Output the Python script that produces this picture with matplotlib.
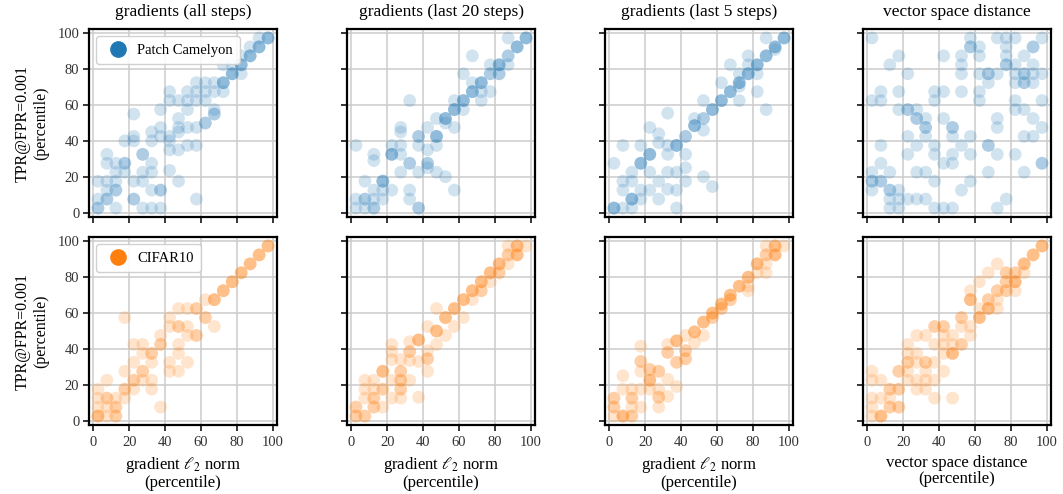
import numpy as np
import matplotlib
matplotlib.use('Agg')
import matplotlib.pyplot as plt
from matplotlib.lines import Line2D

plt.rcParams['font.family'] = ['Liberation Serif', 'DejaVu Serif']
plt.rcParams['mathtext.fontset'] = 'stix'

col_titles = ['gradients (all steps)', 'gradients (last 20 steps)',
              'gradients (last 5 steps)', 'vector space distance']
x_labels = ['gradient $\\ell_2$ norm\n(percentile)', 'gradient $\\ell_2$ norm\n(percentile)',
            'gradient $\\ell_2$ norm\n(percentile)', 'vector space distance\n(percentile)']
y_label = 'TPR@FPR=0.001\n(percentile)'
dataset_names = ['Patch Camelyon', 'CIFAR10']
dataset_colors = ['#1f77b4', '#ff7f0e']
ticks = [0, 20, 40, 60, 80, 100]

# (x, y) percentile pairs, repeated entries are overlapping runs
pcam_all = [(97.5, 97.5)] * 3 + [(92.5, 97.5)] + [(92.5, 92.5)] * 3 + [(87.5, 92.5)] + [(87.5, 87.5)] * 3 + \
    [(82.5, 87.5)] + [(82.5, 82.5)] * 3 + [(72.5, 82.5), (77.5, 82.5)] + [(77.5, 77.5)] * 3 + [(82.5, 77.5)] + \
    [(72.5, 72.5)] * 3 + [(57.5, 72.5), (62.5, 72.5), (67.5, 72.5), (42.5, 67.5), (52.5, 67.5), (57.5, 67.5),
                          (62.5, 67.5), (67.5, 67.5), (72.5, 67.5), (42.5, 62.5), (47.5, 62.5), (52.5, 62.5),
                          (57.5, 62.5), (62.5, 62.5), (37.5, 57.5), (52.5, 57.5), (67.5, 57.5), (22.5, 55)] + \
    [(67.5, 55)] * 2 + [(47.5, 52.5)] + [(62.5, 50)] * 2 + \
    [(37.5, 47.5), (47.5, 47.5), (52.5, 47.5), (57.5, 47.5), (32.5, 45), (47.5, 45), (22.5, 42.5), (37.5, 42.5),
     (42.5, 42.5), (17.5, 40), (22.5, 40), (32.5, 40), (42.5, 40), (52.5, 37.5), (57.5, 37.5), (42.5, 35),
     (47.5, 35), (7.5, 32.5)] + [(27.5, 32.5)] * 2 + [(7.5, 27.5), (12.5, 27.5)] + [(17.5, 27.5)] * 2 + \
    [(32.5, 27.5), (12.5, 22.5), (17.5, 22.5), (27.5, 22.5), (32.5, 22.5), (42.5, 23.5), (2.5, 17.5),
     (7.5, 17.5), (12.5, 17.5), (22.5, 17.5), (27.5, 17.5), (47.5, 17.5), (7.5, 12.5)] + \
    [(12.5, 12.5)] * 2 + [(32.5, 12.5)] + [(37.5, 12.5)] * 2 + [(2.5, 7.5)] + [(7.5, 7.5)] * 2 + \
    [(22.5, 7.5)] * 2 + [(57.5, 7.5)] + [(2.5, 2.5)] * 2 + [(12.5, 2.5), (27.5, 2.5), (32.5, 2.5), (37.5, 2.5)]

pcam_last20 = [(97.5, 97.5)] * 3 + [(92.5, 92.5)] * 3 + [(87.5, 97.5)] + [(87.5, 87.5)] * 2 + [(87.5, 82.5)] + \
    [(82.5, 82.5)] * 3 + [(82.5, 77.5)] * 2 + [(77.5, 82.5)] + [(77.5, 77.5)] * 2 + [(67.5, 87.5), (62.5, 77.5)] + \
    [(72.5, 72.5)] * 3 + [(67.5, 72.5)] + [(67.5, 67.5)] * 3 + [(72.5, 67.5), (77.5, 67.5)] + \
    [(62.5, 62.5)] * 3 + [(62.5, 57.5), (57.5, 62.5), (72.5, 62.5)] + [(57.5, 57.5)] * 3 + [(32.5, 62.5)] + \
    [(52.5, 52.5)] * 3 + [(52.5, 50), (47.5, 52.5), (57.5, 47.5), (27.5, 47.5), (27.5, 45)] + \
    [(37.5, 42.5)] * 2 + [(42.5, 47.5)] + [(47.5, 42.5)] * 3 + [(47.5, 37.5), (22.5, 37.5)] + \
    [(22.5, 32.5)] * 3 + [(27.5, 37.5), (27.5, 32.5), (2.5, 37.5), (12.5, 32.5), (12.5, 29), (37.5, 37.5),
                          (42.5, 35)] + [(32.5, 27.5)] * 2 + [(42.5, 27.5)] * 2 + \
    [(42.5, 25), (27.5, 22.5), (37.5, 22.5), (47.5, 22.5), (52.5, 20)] + [(17.5, 17.5)] * 3 + \
    [(7.5, 17.5), (22.5, 12.5), (32.5, 12.5), (32.5, 7.5), (57.5, 12.5), (2.5, 7.5)] + [(7.5, 7.5)] * 2 + \
    [(12.5, 12.5), (12.5, 7.5), (17.5, 12.5), (17.5, 7.5), (2.5, 2.5), (7.5, 2.5)] + [(12.5, 2.5)] * 2 + \
    [(37.5, 2.5)] * 2

pcam_last5 = [(97.5, 97.5)] * 3 + [(92.5, 92.5)] * 3 + [(92.5, 91), (87.5, 97.5)] + [(87.5, 87.5)] * 3 + \
    [(77.5, 87.5)] + [(82.5, 82.5)] * 3 + [(77.5, 82.5), (67.5, 82.5)] + [(77.5, 77.5)] * 3 + \
    [(72.5, 77.5), (82.5, 77.5)] + [(72.5, 72.5)] * 3 + [(72.5, 70.5)] + [(67.5, 67.5)] * 3 + \
    [(62.5, 72.5), (82.5, 67.5)] + [(62.5, 62.5)] * 3 + [(72.5, 62.5), (52.5, 62.5)] + [(57.5, 57.5)] * 3 + \
    [(87.5, 57.5)] + [(52.5, 52.5)] * 2 + [(47.5, 52.5)] + [(47.5, 48.5)] * 3 + [(52.5, 46)] + \
    [(42.5, 42.5)] * 2 + [(32.5, 55.5), (22.5, 47.5), (27.5, 44)] + [(37.5, 37.5)] * 3 + \
    [(32.5, 37.5), (27.5, 39), (42.5, 32.5), (7.5, 37.5), (17.5, 37.5)] + [(22.5, 32.5)] * 3 + [(32.5, 32.5)] + \
    [(17.5, 27.5)] * 3 + [(2.5, 27.5), (12.5, 22.5), (22.5, 22.5), (32.5, 22.5), (37.5, 22.5), (42.5, 25),
                          (7.5, 17.5), (12.5, 17.5), (27.5, 17.5), (42.5, 17.5), (52.5, 20), (57.5, 14.5),
                          (7.5, 12.5), (17.5, 12.5), (22.5, 12.5), (32.5, 13), (37.5, 12.5)] + \
    [(12.5, 7.5)] * 3 + [(17.5, 7.5), (27.5, 7.5)] + [(2.5, 2.5)] * 3 + [(7.5, 2.5), (12.5, 2.5), (37.5, 2.5)]

pcam_vsd = [(2.5, 97.5), (57.5, 97.5), (72.5, 97.5), (77.5, 97.5), (82.5, 97.5), (97.5, 97.5),
            (57.5, 92.5), (57.5, 92.5), (62.5, 92.5), (77.5, 92.5), (92.5, 92.5), (92.5, 92.5),
            (17.5, 87.5), (42.5, 87.5), (52.5, 87.5), (62.5, 87.5), (77.5, 87.5), (87.5, 87.5),
            (12.5, 82.5), (52.5, 82.5), (77.5, 82.5), (77.5, 82.5), (82.5, 82.5), (92.5, 82.5),
            (22.5, 77.5), (52.5, 77.5), (62.5, 77.5), (67.5, 77.5), (67.5, 77.5), (72.5, 77.5), (82.5, 77.5),
            (87.5, 77.5), (87.5, 77.5), (92.5, 77.5), (97.5, 77.5),
            (67.5, 72.5), (82.5, 72.5), (87.5, 72.5), (87.5, 72.5), (92.5, 72.5),
            (7.5, 67.5), (17.5, 67.5), (37.5, 67.5), (42.5, 67.5), (52.5, 67.5), (62.5, 67.5),
            (2.5, 62.5), (7.5, 62.5), (37.5, 62.5), (62.5, 62.5), (82.5, 62.5), (97.5, 62.5),
            (17.5, 57.5), (22.5, 57.5), (22.5, 57.5), (27.5, 57.5), (82.5, 57.5), (87.5, 57.5),
            (27.5, 52.5), (27.5, 52.5), (32.5, 52.5), (42.5, 52.5), (72.5, 52.5), (92.5, 52.5),
            (32.5, 47.5), (32.5, 47.5), (47.5, 47.5), (47.5, 47.5), (72.5, 47.5), (97.5, 47.5),
            (22.5, 42.5), (32.5, 42.5), (47.5, 42.5), (57.5, 42.5), (87.5, 42.5), (92.5, 42.5),
            (7.5, 37.5), (27.5, 37.5), (37.5, 37.5), (52.5, 37.5), (67.5, 37.5), (67.5, 37.5),
            (22.5, 32.5), (37.5, 32.5), (47.5, 32.5), (57.5, 32.5), (72.5, 32.5), (82.5, 32.5),
            (7.5, 27.5), (42.5, 27.5), (47.5, 27.5), (97.5, 27.5), (97.5, 27.5),
            (2.5, 22.5), (12.5, 22.5), (27.5, 22.5), (32.5, 22.5), (67.5, 22.5), (87.5, 22.5),
            (2.5, 17.5), (2.5, 17.5), (7.5, 17.5), (7.5, 17.5), (37.5, 17.5), (57.5, 17.5),
            (2.5, 12.5), (12.5, 12.5), (12.5, 12.5), (17.5, 12.5), (52.5, 12.5),
            (12.5, 7.5), (17.5, 7.5), (22.5, 7.5), (27.5, 7.5), (32.5, 7.5), (77.5, 7.5),
            (12.5, 2.5), (17.5, 2.5), (37.5, 2.5), (42.5, 2.5), (47.5, 2.5), (72.5, 2.5)]

cifar_all = [(97.5, 97.5)] * 3 + [(92.5, 92.5)] * 3 + [(87.5, 87.5)] * 3 + [(82.5, 82.5)] * 3 + \
    [(77.5, 77.5)] * 3 + [(72.5, 72.5)] * 3 + [(67.5, 67.5)] * 3 + [(62.5, 67.5)] + [(62.5, 57.5)] * 2 + \
    [(67.5, 52.5)] + [(57.5, 62.5)] * 2 + [(52.5, 62.5), (47.5, 62.5), (42.5, 57.5)] + [(47.5, 52.5)] * 2 + \
    [(42.5, 52.5), (52.5, 52.5)] + [(57.5, 47.5)] * 2 + [(52.5, 47.5), (37.5, 47.5), (17.5, 57.5)] + \
    [(37.5, 42.5)] * 2 + [(32.5, 37.5)] * 2 + \
    [(27.5, 42.5), (22.5, 42.5), (47.5, 42.5), (42.5, 32.5), (52.5, 32.5), (47.5, 37.5), (42.5, 27.5),
     (47.5, 27.5), (32.5, 32.5), (27.5, 37.5), (22.5, 32.5)] + [(27.5, 27.5)] * 2 + [(17.5, 27.5)] + \
    [(22.5, 22.5)] * 2 + [(32.5, 22.5), (27.5, 22.5), (32.5, 17.5)] + [(17.5, 17.5)] * 2 + \
    [(22.5, 17.5), (7.5, 22.5), (2.5, 17.5)] + [(7.5, 12.5)] * 2 + \
    [(12.5, 12.5), (17.5, 12.5), (2.5, 12.5), (2.5, 7.5), (7.5, 7.5)] + [(12.5, 7.5)] * 2 + \
    [(2.5, 2.5)] * 3 + [(12.5, 2.5)] * 2 + [(7.5, 2.5), (37.5, 7.5)]

cifar_last20 = [(87.5, 97.5)] + [(92.5, 97.5)] * 3 + [(97.5, 97.5)] + [(87.5, 92.5)] * 2 + [(92.5, 92.5)] * 3 + \
    [(82.5, 87.5)] * 3 + [(87.5, 87.5)] + [(82.5, 82.5)] * 2 + [(77.5, 82.5)] * 3 + [(77.5, 77.5)] + \
    [(72.5, 77.5)] * 3 + [(72.5, 72.5)] * 2 + [(67.5, 72.5)] * 3 + [(67.5, 67.5)] + [(62.5, 67.5)] * 3 + \
    [(62.5, 57.5)] + [(57.5, 62.5)] * 3 + [(57.5, 52.5)] + [(52.5, 57.5)] * 3 + [(52.5, 47.5), (47.5, 62.5)] + \
    [(47.5, 50)] * 3 + [(42.5, 52.5), (47.5, 42.5)] + [(37.5, 45)] * 3 + [(42.5, 39)] + [(42.5, 34.5)] * 2 + \
    [(32.5, 44)] + [(32.5, 38.5)] * 2 + [(32.5, 33.5), (22.5, 42.5), (22.5, 38.5), (22.5, 34), (27.5, 34),
                                         (37.5, 33)] + [(27.5, 27.5)] * 2 + [(17.5, 27.5)] * 3 + \
    [(22.5, 22.5)] + [(27.5, 22.5)] * 2 + [(32.5, 22.5)] + [(27.5, 17.5)] * 2 + \
    [(42.5, 27.5), (7.5, 22.5), (12.5, 22.5), (7.5, 17.5), (12.5, 17.5)] + [(17.5, 17.5)] * 2 + \
    [(7.5, 12.5)] + [(12.5, 12.5)] * 2 + [(22.5, 12.5), (27.5, 12.5), (37.5, 13), (17.5, 7.5)] + \
    [(12.5, 7.5)] * 2 + [(2.5, 7.5)] * 2 + [(2.5, 2.5)] * 2 + [(7.5, 2.5)] * 2

cifar_last5 = [(87.5, 97.5)] + [(92.5, 97.5)] * 3 + [(97.5, 97.5)] + [(92.5, 92.5)] * 3 + [(87.5, 92.5)] * 2 + \
    [(82.5, 87.5)] * 3 + [(87.5, 87.5), (82.5, 82.5), (87.5, 82.5)] + [(77.5, 80)] * 3 + [(72.5, 75)] * 3 + \
    [(77.5, 75), (77.5, 72.5)] + [(67.5, 70)] * 3 + [(67.5, 67.5)] * 2 + [(62.5, 65)] * 3 + \
    [(62.5, 62.5)] * 2 + [(57.5, 60)] * 3 + [(57.5, 57.5)] * 2 + [(52.5, 55)] * 3 + [(47.5, 49.5)] * 3 + \
    [(52.5, 47.5), (47.5, 43.5), (42.5, 47.5)] + [(37.5, 44.5)] * 3 + [(32.5, 42.5)] + [(32.5, 38)] * 2 + \
    [(42.5, 39)] * 2 + [(42.5, 34.5)] * 2 + [(37.5, 32.5)] * 2 + [(17.5, 41.5)] + [(17.5, 33)] * 2 + \
    [(17.5, 27.5)] + [(22.5, 28.5)] * 2 + [(27.5, 27.5)] * 2 + [(22.5, 22.5)] * 3 + \
    [(32.5, 23), (7.5, 25), (7.5, 17.5), (12.5, 17.5), (17.5, 17.5), (22.5, 17.5), (27.5, 17.5),
     (37.5, 19)] + [(12.5, 12.5)] * 2 + [(27.5, 13)] * 2 + [(32.5, 13.5)] + [(2.5, 12.5)] * 2 + \
    [(2.5, 7.5)] * 2 + [(12.5, 7.5), (17.5, 7.5), (27.5, 7.5)] + [(7.5, 2.5)] * 3 + [(12.5, 2.5)] * 2 + \
    [(2.5, 2.5)]

cifar_vsd = [(97.5, 97.5)] * 3 + [(92.5, 92.5)] * 3 + [(87.5, 87.5)] * 3 + [(72.5, 87.5), (67.5, 82.5)] + \
    [(77.5, 82.5)] * 2 + [(82.5, 82.5)] * 2 + [(87.5, 82.5)] + [(82.5, 77.5)] * 3 + [(77.5, 77.5)] * 2 + \
    [(77.5, 72.5)] * 2 + [(82.5, 72.5)] + [(72.5, 72.5)] * 2 + [(62.5, 77.5), (57.5, 72.5)] + \
    [(57.5, 67.5)] * 3 + [(67.5, 67.5)] * 2 + [(72.5, 67.5), (62.5, 62.5)] + [(67.5, 62.5)] * 3 + \
    [(72.5, 62.5)] + [(62.5, 57.5)] * 3 + [(52.5, 57.5)] * 2 + [(52.5, 52.5), (57.5, 52.5), (57.5, 47.5)] + \
    [(42.5, 52.5)] * 2 + [(37.5, 52.5)] * 2 + [(47.5, 47.5), (42.5, 47.5), (27.5, 47.5), (32.5, 47.5)] + \
    [(52.5, 42.5)] * 2 + [(47.5, 42.5), (42.5, 42.5), (37.5, 42.5), (22.5, 42.5)] + [(47.5, 37.5)] * 3 + \
    [(42.5, 37.5), (22.5, 37.5), (27.5, 37.5)] + [(22.5, 32.5)] * 2 + [(27.5, 32.5)] + [(32.5, 32.5)] * 2 + \
    [(37.5, 32.5)] + [(17.5, 27.5)] * 2 + \
    [(22.5, 27.5), (32.5, 27.5), (42.5, 27.5), (2.5, 27.5), (2.5, 22.5), (7.5, 22.5), (22.5, 22.5),
     (27.5, 22.5), (32.5, 22.5), (37.5, 22.5)] + [(12.5, 17.5)] * 2 + [(17.5, 17.5)] * 2 + \
    [(27.5, 17.5), (32.5, 17.5), (2.5, 12.5), (7.5, 12.5), (12.5, 12.5), (37.5, 12.5), (47.5, 12.5),
     (2.5, 7.5)] + [(12.5, 7.5)] * 2 + [(17.5, 7.5)] * 2 + [(2.5, 2.5)] + [(7.5, 2.5)] * 3

panels = [[pcam_all, pcam_last20, pcam_last5, pcam_vsd],
          [cifar_all, cifar_last20, cifar_last5, cifar_vsd]]

fig = plt.figure(figsize=(10.63, 4.94), dpi=100)

W, H = 1063, 494
lefts = [89, 347, 605, 863]
tops = [29, 237]
size = 188

for r in range(2):
    for c in range(4):
        ax = fig.add_axes([lefts[c] / W, (H - tops[r] - size) / H, size / W, size / H])
        pts = np.array(panels[r][c])
        ax.scatter(pts[:, 0], pts[:, 1], s=85, color=dataset_colors[r], alpha=0.2,
                   edgecolors='none', zorder=3)
        ax.set_xlim(-2.5, 102.5)
        ax.set_ylim(-2.5, 102.5)
        ax.set_xticks(ticks)
        ax.set_yticks(ticks)
        ax.grid(True, color='#cccccc', linewidth=1.1, zorder=0)
        ax.set_axisbelow(True)
        for sp in ax.spines.values():
            sp.set_linewidth(1.6)
            sp.set_color('black')
        ax.tick_params(direction='out', length=4, width=1.1, labelsize=10.5, pad=3,
                       colors='black', labelcolor='#333333')
        ax.tick_params(axis='x', pad=4)
        if c == 0:
            ax.set_ylabel(y_label, fontsize=11.5, labelpad=6)
        else:
            ax.set_yticklabels([])
        if r == 1:
            ax.set_xlabel(x_labels[c], fontsize=12, labelpad=4, linespacing=1.05)
        else:
            ax.set_xticklabels([])
            ax.set_title(col_titles[c], fontsize=12.5, pad=9)
        if c == 0:
            handle = Line2D([], [], marker='o', linestyle='none', markersize=11,
                            color=dataset_colors[r])
            leg = ax.legend([handle], [dataset_names[r]], loc='upper left', fontsize=10.5,
                            handletextpad=0.3, borderpad=0.5, framealpha=0.9,
                            borderaxespad=0.5)
            leg.get_frame().set_edgecolor('#cccccc')
            leg.get_frame().set_linewidth(1.0)

fig.savefig('out.png', dpi=100)
